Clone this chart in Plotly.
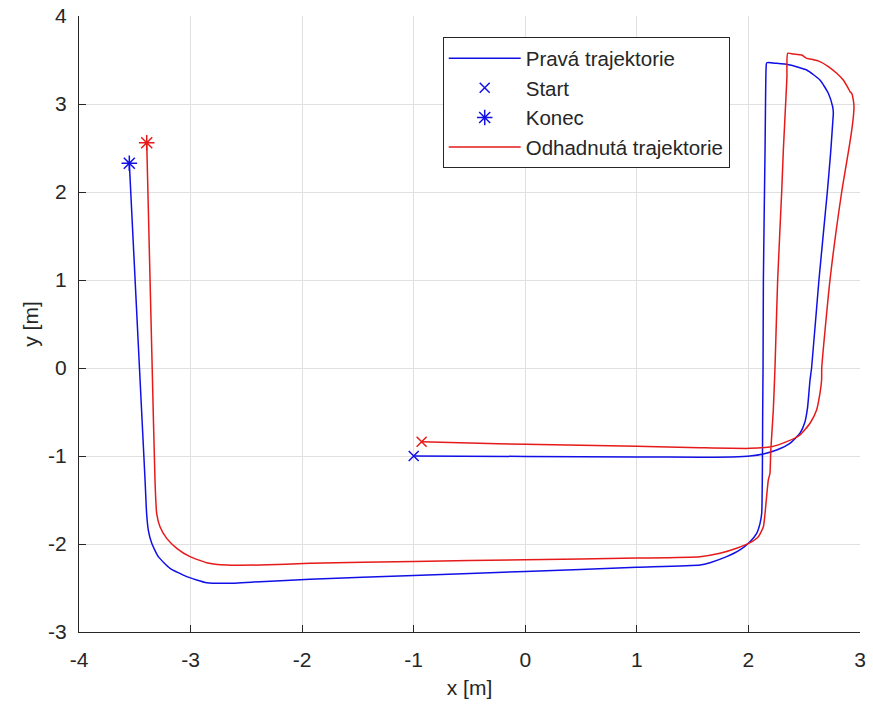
import plotly.graph_objects as go

# True trajectory (Pravá trajektorie)
true_x = [-1.0, 0.0, 1.0, 1.566, 1.85, 2.014, 2.134, 2.253, 2.372, 2.462, 2.505, 2.53, 2.552, 2.566,
          2.632, 2.707, 2.737, 2.755, 2.761, 2.755, 2.716, 2.641, 2.522, 2.372, 2.253, 2.164,
          2.158, 2.149, 2.134, 2.131, 2.128, 2.119, 2.104, 2.074, 2.014, 1.924, 1.805, 1.656,
          1.566, 1.0, 0.0, -1.0, -1.93, -2.378, -2.676, -2.855, -3.035, -3.184, -3.289, -3.348,
          -3.379, -3.394, -3.408, -3.458, -3.549]
true_y = [-1.0, -1.005, -1.01, -1.015, -1.01, -1.0, -0.977, -0.932, -0.856, -0.742, -0.62, -0.45, -0.136, 0.0,
          1.0, 2.0, 2.45, 2.78, 2.9, 2.969, 3.122, 3.273, 3.386, 3.443, 3.462, 3.469,
          3.40, 2.477, 1.0, 0.0, -0.477, -1.65, -1.765, -1.879, -1.974, -2.068, -2.144, -2.212,
          -2.239, -2.265, -2.312, -2.358, -2.401, -2.428, -2.447, -2.440, -2.371, -2.276, -2.144, -1.992,
          -1.841, -1.651, -1.273, 0.0, 2.326]

# Estimated trajectory (Odhadnutá trajektorie)
est_x = [-0.929, -0.5, 0.0, 1.0, 1.566, 2.014, 2.208, 2.343, 2.462, 2.552, 2.611, 2.641, 2.656, 2.657,
         2.731, 2.836, 2.895, 2.92, 2.94, 2.946, 2.94, 2.926, 2.911, 2.895, 2.85, 2.791, 2.716, 2.641,
         2.567, 2.522, 2.478, 2.402, 2.352,
         2.345, 2.313, 2.298, 2.262, 2.238, 2.223, 2.20, 2.193, 2.178, 2.149, 2.134, 2.089, 2.014,
         1.894, 1.745, 1.566, 1.0, 0.0, -1.0, -1.93, -2.378, -2.676, -2.855, -3.005, -3.124, -3.214,
         -3.274, -3.304, -3.319, -3.344, -3.393]
est_y = [-0.837, -0.852, -0.867, -0.89, -0.906, -0.913, -0.894, -0.837, -0.761, -0.628, -0.477, -0.288, -0.136, 0.0,
         1.0, 2.0, 2.45, 2.65, 2.85, 2.969, 3.045, 3.122, 3.14, 3.178, 3.273, 3.349, 3.424, 3.481,
         3.508, 3.519, 3.557, 3.568, 3.576,
         3.3, 2.477, 2.0, 1.0, 0.0, -0.477, -0.95, -1.197, -1.273, -1.651, -1.803, -1.917, -1.985,
         -2.049, -2.106, -2.144, -2.16, -2.178, -2.198, -2.219, -2.239, -2.239, -2.212, -2.144, -2.049, -1.936,
         -1.803, -1.651, -1.273, 0.0, 2.56]

x_ticks = [-4, -3, -2, -1, 0, 1, 2, 3]
x_ticklabels = ["-4", "-3", "-2", "-1", "0", "1", "2", "3"]
y_ticks = [-3, -2, -1, 0, 1, 2, 3, 4]
y_ticklabels = ["-3", "-2", "-1", "0", "1", "2", "3", "4"]

BLUE = "#1010e6"
RED = "#e61a1a"
TXT = "#262626"
FONT = "Liberation Sans, Arial, sans-serif"
FS = 21

fig = go.Figure()
fig.add_trace(go.Scatter(x=true_x, y=true_y, mode="lines", name="Pravá trajektorie",
                         line=dict(color=BLUE, width=1.5, shape="spline", smoothing=0.5)))
fig.add_trace(go.Scatter(x=[true_x[0]], y=[true_y[0]], mode="markers", name="Start",
                         marker=dict(symbol="x-thin-open", size=10, color=BLUE,
                                     line=dict(color=BLUE, width=1.5))))
fig.add_trace(go.Scatter(x=[true_x[-1]], y=[true_y[-1]], mode="markers", name="Konec",
                         marker=dict(symbol="asterisk-open", size=13, color=BLUE,
                                     line=dict(color=BLUE, width=1.5))))
fig.add_trace(go.Scatter(x=est_x, y=est_y, mode="lines", name="Odhadnutá trajektorie",
                         line=dict(color=RED, width=1.5, shape="spline", smoothing=0.5)))
fig.add_trace(go.Scatter(x=[est_x[0]], y=[est_y[0]], mode="markers", showlegend=False,
                         marker=dict(symbol="x-thin-open", size=10, color=RED,
                                     line=dict(color=RED, width=1.5))))
fig.add_trace(go.Scatter(x=[est_x[-1]], y=[est_y[-1]], mode="markers", showlegend=False,
                         marker=dict(symbol="asterisk-open", size=13, color=RED,
                                     line=dict(color=RED, width=1.5))))

axis_common = dict(
    showgrid=True, gridcolor="#e0e0e0", gridwidth=1, zeroline=False,
    showline=True, linecolor=TXT, linewidth=1.3, mirror=False,
    ticks="inside", ticklen=7, tickcolor=TXT, tickwidth=1.3,
    tickfont=dict(family=FONT, size=FS, color=TXT),
    automargin=False, tickmode="array",
)
fig.update_xaxes(range=[-4, 3], tickvals=x_ticks, ticktext=x_ticklabels, ticklabelstandoff=9,
                 title=dict(text="x [m]", font=dict(family=FONT, size=FS, color=TXT), standoff=9),
                 **axis_common)
fig.update_yaxes(range=[-3, 4], tickvals=y_ticks, ticktext=y_ticklabels, ticklabelstandoff=7,
                 title=dict(text="y [m]", font=dict(family=FONT, size=FS, color=TXT), standoff=3),
                 **axis_common)

fig.update_layout(
    width=873, height=713,
    margin=dict(l=79, r=13, t=16, b=81),
    paper_bgcolor="white", plot_bgcolor="white",
    font=dict(family=FONT, size=FS, color=TXT),
    legend=dict(x=0.4657, y=0.9654, xanchor="left", yanchor="top",
                bgcolor="white", bordercolor=TXT, borderwidth=1,
                font=dict(family=FONT, size=20.5, color=TXT),
                itemwidth=72, tracegroupgap=0),
    showlegend=True,
)

fig.write_html("out.html")
